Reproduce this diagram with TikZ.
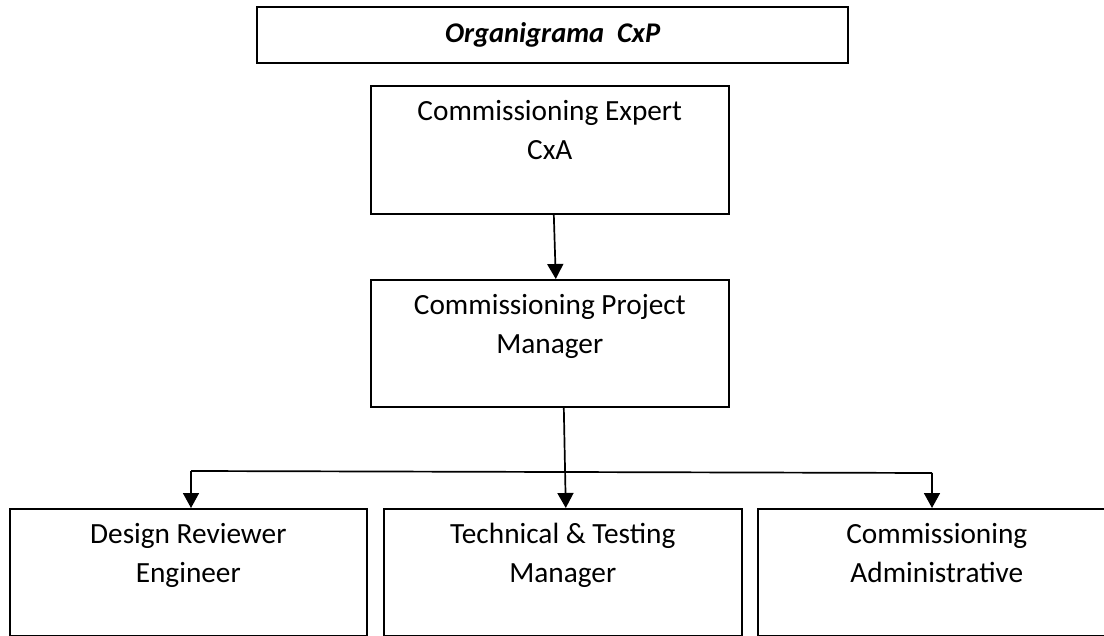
\documentclass[tikz,border=0pt]{standalone}
\usepackage{fontspec}
\setmainfont{Carlito}
\usetikzlibrary{arrows.meta}
\begin{document}
\begin{tikzpicture}[x=1pt,y=-1pt,
  box/.style={draw=black, line width=1.6pt, inner sep=0pt, anchor=north west,
    align=center, minimum width=358pt, font=\fontsize{29.3}{39}\selectfont},
  titlebox/.style={draw=black, line width=2.2pt, inner sep=0pt, anchor=north west,
    minimum width=591pt, minimum height=56pt, font=\fontsize{28.5}{32}\selectfont\bfseries\itshape},
  conn/.style={line width=1.7pt},
  arr/.style={conn, -{Triangle[length=15pt,width=16pt]}}]
\useasboundingbox (0,0) rectangle (1104,636);
\node[titlebox] (t) at (256,6) {Organigrama\ \ CxP};
\node[box, minimum height=128pt] (ce) at (370,85) {Commissioning Expert\\CxA\\\mbox{}};
\node[box, minimum height=127pt] (pm) at (370,279) {Commissioning Project\\Manager\\\mbox{}};
\node[box, minimum width=357pt, minimum height=127pt] (dr) at (9,508) {Design Reviewer\\Engineer\\\mbox{}};
\node[box, minimum height=127pt] (tm) at (383,508) {Technical \& Testing\\Manager\\\mbox{}};
\node[box, minimum height=127pt] (ca) at (757,508) {Commissioning\\Administrative\\\mbox{}};
\coordinate (jl) at (191,471);
\coordinate (jr) at (932,473);
\draw[arr] ([xshift=4pt]ce.south) -- ([xshift=6pt]pm.north);
\draw[arr] ([xshift=14pt]pm.south) -- ([xshift=3pt]tm.north);
\draw[conn] (jl) -- (jr);
\draw[arr] (jl) -- (jl |- dr.north);
\draw[arr] (jr) -- (jr |- ca.north);
\end{tikzpicture}
\end{document}
